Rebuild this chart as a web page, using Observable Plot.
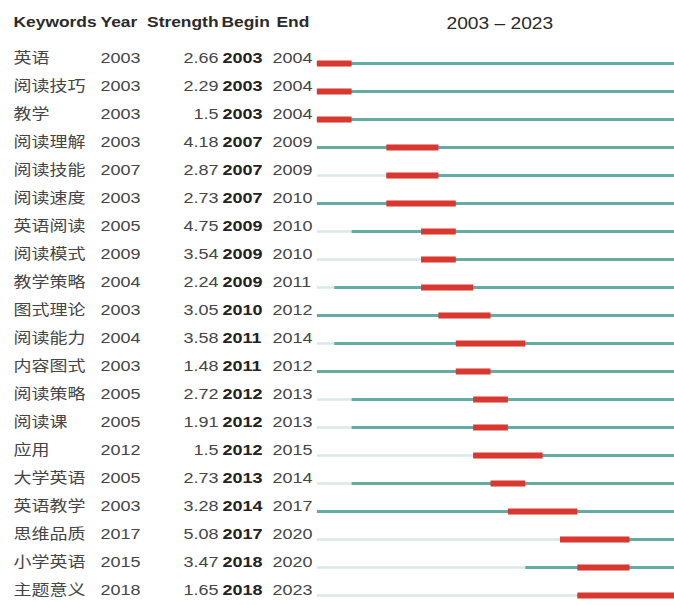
<!DOCTYPE html>
<html><head><meta charset="utf-8">
<script src="https://cdn.jsdelivr.net/npm/d3@7"></script>
<script src="https://cdn.jsdelivr.net/npm/@observablehq/plot@0.6"></script>
<style>body{margin:0;background:#fff;overflow:hidden}</style>
</head><body><div id="chart"></div>
<script>
const keywords = ["英语","阅读技巧","教学","阅读理解","阅读技能","阅读速度","英语阅读","阅读模式","教学策略","图式理论","阅读能力","内容图式","阅读策略","阅读课","应用","大学英语","英语教学","思维品质","小学英语","主题意义"];
const years = [2003,2003,2003,2003,2007,2003,2005,2009,2004,2003,2004,2003,2005,2005,2012,2005,2003,2017,2015,2018];
const strengths = [2.66,2.29,1.5,4.18,2.87,2.73,4.75,3.54,2.24,3.05,3.58,1.48,2.72,1.91,1.5,2.73,3.28,5.08,3.47,1.65];
const begins = [2003,2003,2003,2007,2007,2007,2009,2009,2009,2010,2011,2011,2012,2012,2012,2013,2014,2017,2018,2018];
const ends = [2004,2004,2004,2009,2009,2010,2010,2010,2011,2012,2014,2012,2013,2013,2015,2014,2017,2020,2020,2023];
const headers = ["Keywords","Year","Strength","Begin","End"];
const spanStart = 2003, spanEnd = 2023;

const rows = keywords.map((k,i)=>({keyword:k, year:years[i], strength:String(strengths[i]), begin:begins[i], end:ends[i]}));

const W = 562, H = 605; // drawn narrower, then stretched horizontally to 674 like the reference
const font = "'Liberation Sans', Arial, 'Noto Sans CJK SC', sans-serif";
const body = {y:"keyword", frameAnchor:"left", lineAnchor:"bottom", dy:-1, fontSize:15, fill:"#454545"};
const head = {frameAnchor:"top-left", lineAnchor:"bottom", dy:26.5, fontSize:14.5, fontWeight:"bold", fill:"#2a2a2a"};

const svg = Plot.plot({
  width: W, height: H, margin: 0,
  style: {fontFamily: font, background: "white"},
  x: {domain: [spanStart, spanEnd + 1], range: [264.2, 568.3], axis: null},
  y: {type: "point", domain: keywords, range: [56, 602], padding: 0, axis: null},
  marks: [
    Plot.ruleY(rows, {y:"keyword", x1: () => spanStart, x2:"year", stroke:"#dbe8e9", strokeWidth:2.5}),
    Plot.ruleY(rows, {y:"keyword", x1:"year", x2: () => spanEnd + 1, stroke:"#64aaa7", strokeWidth:3}),
    Plot.ruleY(rows, {y:"keyword", x1:"begin", x2: d => d.end + 1, stroke:"#d8382f", strokeWidth:6}),
    Plot.text(rows, {...body, text:"keyword", dx:10.8, textAnchor:"start"}),
    Plot.text(rows, {...body, text: d => String(d.year), dx:83.3, textAnchor:"start"}),
    Plot.text(rows, {...body, text:"strength", dx:181.7, textAnchor:"end"}),
    Plot.text(rows, {...body, text: d => String(d.begin), dx:185, textAnchor:"start", fontWeight:"bold", fill:"#222"}),
    Plot.text(rows, {...body, text: d => String(d.end), dx:226.7, textAnchor:"start"}),
    Plot.text([headers[0]], {...head, text: d => d, dx:10.8, textAnchor:"start"}),
    Plot.text([headers[1]], {...head, text: d => d, dx:83.3, textAnchor:"start"}),
    Plot.text([headers[2]], {...head, text: d => d, dx:181.7, textAnchor:"end"}),
    Plot.text([headers[3]], {...head, text: d => d, dx:184.2, textAnchor:"start"}),
    Plot.text([headers[4]], {...head, text: d => d, dx:230, textAnchor:"start"}),
    Plot.text([`${spanStart} – ${spanEnd}`], {x: () => (spanStart + spanEnd + 1) / 2, text: d => d, frameAnchor:"top", lineAnchor:"bottom", dy:28, fontSize:16, fill:"#2a2a2a", textAnchor:"middle"})
  ]
});
svg.setAttribute("width", 674);
svg.setAttribute("height", 605);
svg.setAttribute("preserveAspectRatio", "none");
svg.style.width = "674px";
svg.style.height = "605px";
svg.style.maxWidth = "none";
document.getElementById("chart").appendChild(svg);
</script>
</body></html>
